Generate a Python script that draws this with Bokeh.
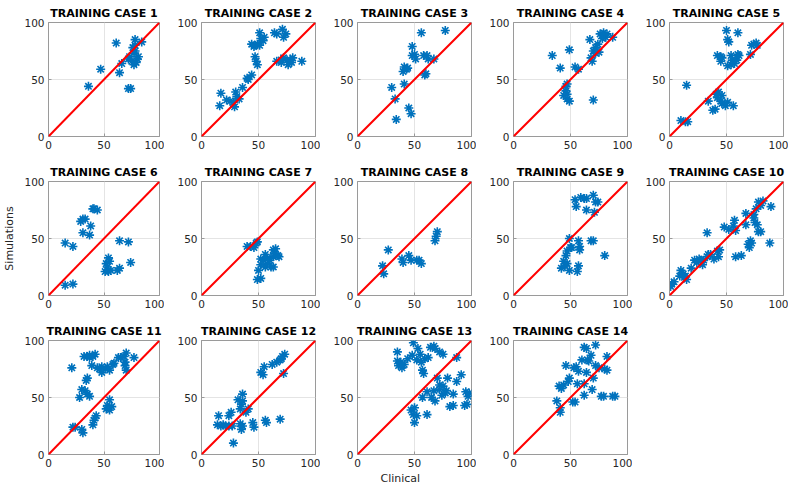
import math
from bokeh.plotting import figure
from bokeh.layouts import gridplot
from bokeh.models import Range1d, FixedTicker, Slope, Title
from bokeh.embed import file_html
from bokeh.resources import INLINE

titles = ["TRAINING CASE %d" % i for i in range(1, 15)]
ticks = [0, 50, 100]
x_label = "Clinical"
y_label = "Simulations"

x1 = [36, 47, 61, 64, 66, 72, 74, 72, 73, 75, 77, 76, 78, 78, 79, 80, 81, 84, 77, 78]
y1 = [44, 59, 82, 56, 64, 42, 42, 68, 70, 66, 63, 78, 85, 75, 65, 68, 70, 83, 73, 80]

x2 = [16, 17, 22, 25, 28, 29, 30, 31, 33, 36, 40, 41, 44, 47, 48, 49, 44, 47, 49, 51,
      52, 54, 51, 55, 64, 66, 71, 72, 74, 66, 70, 72, 75, 76, 78, 79, 80, 88, 70, 46]
y2 = [27, 38, 32, 31, 30, 26, 39, 35, 33, 43, 51, 50, 54, 70, 66, 63, 81, 80, 81, 80,
      86, 84, 91, 87, 91, 90, 94, 87, 90, 66, 67, 69, 67, 63, 67, 65, 69, 66, 65, 79]

x3 = [30, 33, 34, 41, 45, 47, 40, 41, 43, 44, 48, 48, 50, 51, 56, 58, 59, 60, 61, 62, 67, 77]
y3 = [43, 33, 15, 46, 25, 20, 57, 61, 59, 60, 79, 71, 72, 68, 91, 71, 54, 55, 71, 68, 68, 93]

x4 = [34, 41, 46, 47, 44, 47, 47, 49, 49, 46, 54, 57, 70, 67, 68, 69, 70, 72, 74, 75,
      76, 78, 79, 81, 82, 87, 72, 78]
y4 = [71, 60, 44, 46, 36, 37, 33, 31, 76, 40, 61, 59, 32, 85, 69, 66, 75, 73, 81, 74,
      90, 89, 91, 87, 90, 87, 78, 86]

x5 = [10, 14, 16, 15, 34, 38, 40, 41, 42, 43, 45, 46, 46, 49, 51, 56, 42, 45, 45, 46,
      50, 51, 52, 51, 54, 54, 55, 57, 59, 60, 61, 60, 71, 72, 74, 76, 77]
y5 = [14, 13, 13, 45, 31, 23, 24, 37, 34, 39, 31, 36, 29, 27, 30, 27, 71, 70, 66, 69,
      93, 85, 83, 62, 63, 71, 67, 64, 67, 72, 71, 91, 72, 80, 81, 82, 80]

x6 = [15, 22, 15, 22, 31, 37, 29, 31, 33, 38, 40, 44, 41, 64, 72, 54, 52, 53, 51, 54,
      56, 62, 64, 74, 55]
y6 = [9, 10, 46, 43, 55, 53, 65, 67, 67, 61, 76, 75, 76, 48, 47, 33, 28, 25, 21, 21,
      22, 22, 24, 29, 30]

x7 = [40, 43, 46, 48, 49, 49, 52, 50, 52, 52, 54, 56, 56, 58, 58, 60, 61, 63, 63, 64,
      65, 67, 68, 63]
y7 = [43, 43, 42, 46, 47, 14, 15, 22, 32, 27, 31, 36, 25, 33, 28, 31, 25, 40, 34, 37,
      41, 35, 34, 25]

x8 = [22, 23, 27, 39, 40, 45, 47, 52, 54, 56, 68, 69, 70]
y8 = [26, 19, 40, 32, 29, 35, 31, 31, 31, 28, 48, 52, 56]

x9 = [42, 44, 46, 47, 45, 47, 49, 50, 49, 51, 56, 57, 57, 58, 58, 68, 70, 80, 54, 55,
      59, 62, 64, 64, 70, 72, 74, 71]
y9 = [24, 30, 35, 39, 26, 28, 22, 42, 50, 42, 21, 26, 48, 40, 43, 48, 48, 35, 84, 78,
      86, 85, 85, 75, 88, 82, 82, 73]

x10 = [1, 2, 4, 9, 10, 12, 13, 14, 15, 19, 22, 24, 26, 27, 29, 30, 33, 34, 36, 39,
       42, 43, 44, 33, 48, 52, 56, 57, 58, 58, 63, 67, 67, 69, 70, 71, 72, 74, 75, 77,
       78, 80, 76, 78, 80, 82, 88, 89, 74]
y10 = [8, 10, 12, 17, 22, 19, 16, 17, 14, 24, 31, 29, 32, 31, 27, 31, 34, 36, 36, 32,
       39, 34, 40, 55, 60, 58, 61, 66, 57, 34, 35, 62, 72, 45, 42, 48, 46, 68, 64, 62,
       56, 56, 76, 82, 79, 83, 46, 78, 71]

x11 = [22, 24, 30, 31, 21, 28, 30, 33, 35, 37, 34, 35, 32, 35, 37, 37, 40, 42, 39, 40,
       41, 42, 43, 44, 46, 48, 48, 51, 52, 53, 55, 55, 57, 53, 55, 58, 59, 63, 65, 68,
       70, 69, 69, 70, 77]
y11 = [24, 24, 22, 19, 76, 50, 57, 56, 53, 51, 65, 67, 86, 86, 87, 85, 86, 88, 78, 26,
       30, 32, 34, 76, 75, 77, 72, 75, 40, 43, 39, 48, 42, 77, 74, 79, 80, 85, 85, 86,
       89, 81, 78, 74, 85]

x12 = [14, 15, 17, 19, 21, 24, 24, 26, 27, 28, 32, 34, 35, 36, 36, 34, 35, 36, 39, 41,
       45, 46, 56, 57, 69, 52, 54, 55, 62, 66, 69, 71, 73, 72, 70]
y12 = [26, 34, 25, 26, 25, 25, 34, 37, 25, 10, 48, 40, 44, 53, 47, 27, 22, 25, 37, 40,
       28, 24, 30, 28, 31, 72, 70, 77, 79, 81, 83, 86, 88, 71, 84]

x13 = [35, 35, 36, 38, 39, 41, 44, 48, 49, 53, 55, 52, 56, 57, 58, 59, 62, 64, 67, 68,
       72, 75, 47, 50, 49, 50, 52, 61, 57, 61, 65, 67, 68, 70, 72, 72, 74, 75, 77, 78,
       79, 81, 84, 84, 87, 87, 91, 94, 95, 96, 97, 98]
y13 = [90, 82, 78, 81, 76, 79, 84, 87, 98, 93, 88, 83, 81, 74, 71, 84, 85, 94, 95, 93,
       90, 88, 39, 41, 35, 28, 34, 35, 50, 55, 50, 56, 47, 67, 61, 57, 52, 60, 54, 56,
       67, 42, 43, 53, 64, 85, 70, 43, 55, 44, 51, 54]

x14 = [38, 41, 41, 40, 42, 44, 46, 48, 49, 52, 54, 53, 55, 57, 56, 62, 62, 60, 62, 64,
       65, 66, 68, 72, 69, 70, 64, 72, 75, 77, 79, 80, 82, 82, 87, 89]
y14 = [47, 41, 37, 60, 58, 61, 78, 64, 67, 46, 46, 76, 77, 73, 62, 62, 52, 83, 94, 93,
       83, 82, 87, 96, 57, 67, 72, 78, 76, 51, 51, 75, 74, 86, 51, 51]

xs = [x1, x2, x3, x4, x5, x6, x7, x8, x9, x10, x11, x12, x13, x14]
ys = [y1, y2, y3, y4, y5, y6, y7, y8, y9, y10, y11, y12, y13, y14]

FONT = "DejaVu Sans"
TXT = "#262626"
BOX = "#9a9a9a"
BLUE = "#0072BD"
FRAME = 114
RIGHT = 5
TOP = 22


def make_panel(idx, row, col):
    left = 45 if col == 0 else 37
    bottom = 23 if row < 2 else 35
    p = figure(width=left + FRAME + RIGHT, height=TOP + FRAME + bottom,
               output_backend="svg", toolbar_location=None,
               x_range=Range1d(0, 100), y_range=Range1d(0, 100),
               min_border_left=left, min_border_right=RIGHT,
               min_border_top=TOP, min_border_bottom=bottom)
    p.background_fill_color = "white"
    p.border_fill_color = "white"
    p.outline_line_color = BOX
    p.outline_line_width = 1
    p.title.text = titles[idx]
    p.title.align = "center"
    p.title.text_font = FONT
    p.title.text_font_size = "11px"
    p.title.text_font_style = "bold"
    p.title.text_color = "black"
    p.title.standoff = 6
    for ax in (p.xaxis[0], p.yaxis[0]):
        ax.ticker = FixedTicker(ticks=ticks)
        ax.axis_line_color = BOX
        ax.major_tick_line_color = BOX
        ax.major_tick_in = 3
        ax.major_tick_out = 0
        ax.minor_tick_line_color = None
        ax.major_label_text_font = FONT
        ax.major_label_text_font_size = "10.5px"
        ax.major_label_text_color = TXT
        ax.major_label_standoff = 4
    for g in (p.xgrid[0], p.ygrid[0]):
        g.ticker = FixedTicker(ticks=ticks)
        g.grid_line_color = "#e4e4e4"
        g.grid_line_width = 1
    p.scatter(xs[idx], ys[idx], marker="asterisk", size=9,
              line_color=BLUE, line_width=1.6)
    p.add_layout(Slope(gradient=1, y_intercept=0, line_color="#FF0000", line_width=2))
    return p


panels = []
for i in range(14):
    panels.append(make_panel(i, i // 5, i % 5))

# y axis title on the middle-left panel
ya = panels[5].yaxis[0]
ya.axis_label = y_label
ya.axis_label_text_font = FONT
ya.axis_label_text_font_size = "11px"
ya.axis_label_text_font_style = "normal"
ya.axis_label_text_color = TXT
ya.axis_label_standoff = 5

# x axis title below the bottom row
panels[12].add_layout(Title(text=x_label, align="left", offset=23,
                            text_font=FONT, text_font_size="11px",
                            text_font_style="normal", text_color=TXT,
                            standoff=0), "below")

grid = [panels[0:5], panels[5:10], panels[10:14] + [None]]
layout = gridplot(grid, toolbar_location=None)

open("out.html", "w").write(file_html(layout, INLINE))
